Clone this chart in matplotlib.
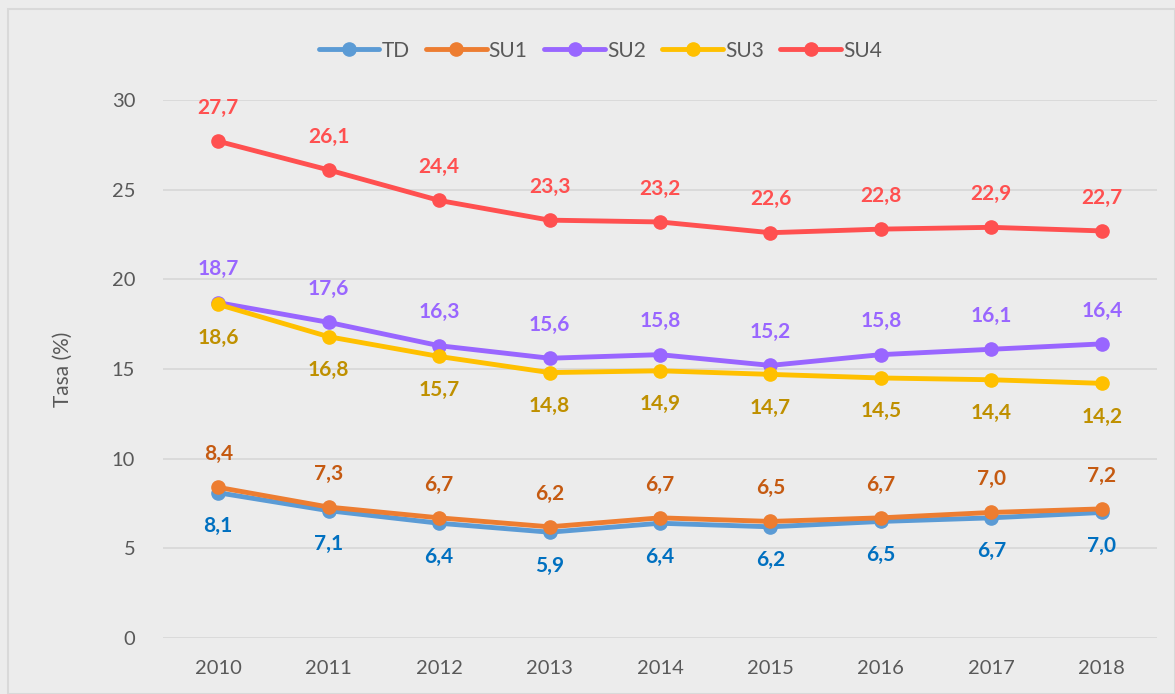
import matplotlib.pyplot as plt
import matplotlib.patches as mpatches
import numpy as np

years = ['2010', '2011', '2012', '2013', '2014', '2015', '2016', '2017', '2018']
td = [8.1, 7.1, 6.4, 5.9, 6.4, 6.2, 6.5, 6.7, 7.0]
su1 = [8.4, 7.3, 6.7, 6.2, 6.7, 6.5, 6.7, 7.0, 7.2]
su2 = [18.7, 17.6, 16.3, 15.6, 15.8, 15.2, 15.8, 16.1, 16.4]
su3 = [18.6, 16.8, 15.7, 14.8, 14.9, 14.7, 14.5, 14.4, 14.2]
su4 = [27.7, 26.1, 24.4, 23.3, 23.2, 22.6, 22.8, 22.9, 22.7]

plt.rcParams['font.family'] = ['Lato', 'DejaVu Sans']

series = [
    ('TD', td, '#5B9BD5', '#0070C0', -1),
    ('SU1', su1, '#ED7D31', '#C55A11', 1),
    ('SU2', su2, '#9966FF', '#9966FF', 1),
    ('SU3', su3, '#FFC000', '#BF9000', -1),
    ('SU4', su4, '#FF5050', '#FF5050', 1),
]

fig = plt.figure(figsize=(11.75, 6.94), dpi=100)
bg = '#ECECEC'
fig.patch.set_facecolor(bg)
fig.patches.append(mpatches.Rectangle((8 / 1175, 0), 1 - 8 / 1175, 1 - 9 / 694,
                                      transform=fig.transFigure, fill=False,
                                      edgecolor='#D9D9D9', linewidth=1.5))

ax = fig.add_axes([163 / 1175, 56 / 694, 994 / 1175, 538 / 694])
ax.set_facecolor(bg)
x = np.arange(len(years))

for name, vals, lc, tc, side in series:
    ax.plot(x, vals, color=lc, linewidth=3.5, marker='o', markersize=9.5,
            label=name, solid_capstyle='round')
    for xi, v in zip(x, vals):
        ax.annotate(f'{v:.1f}'.replace('.', ','), (xi, v), xytext=(0, 24 * side),
                    textcoords='offset points', ha='center', va='center',
                    fontsize=15, fontweight='bold', color=tc)

ax.set_xlim(-0.5, len(years) - 0.5)
ax.set_ylim(0, 30)
ax.set_yticks(range(0, 31, 5))
ax.set_xticks(x)
ax.set_xticklabels(years)
ax.tick_params(length=0, labelsize=14.5, colors='#595959', pad=16)
ax.tick_params(axis='y', pad=20)
ax.grid(axis='y', color='#D9D9D9', linewidth=1.3)
ax.set_axisbelow(True)
for s in ax.spines.values():
    s.set_visible(False)
ax.set_ylabel('Tasa (%)', fontsize=15, color='#595959', labelpad=28)

leg = ax.legend(loc='upper center', bbox_to_anchor=(0.44, 1.145), ncol=5,
                frameon=False, fontsize=15, handlelength=2.9, columnspacing=0.8,
                handletextpad=0.1, labelcolor='#595959')

fig.savefig('out.png', dpi=100, facecolor=bg)
